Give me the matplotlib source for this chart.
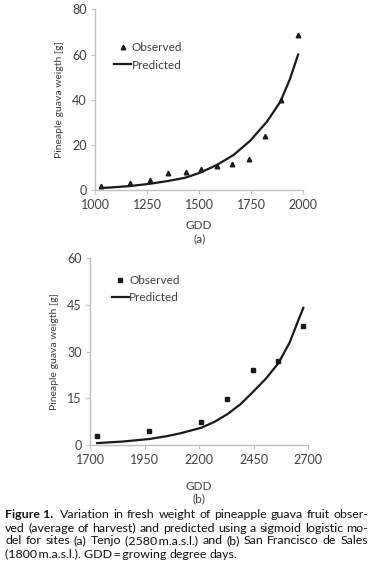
import numpy as np
import matplotlib
matplotlib.use("Agg")
import matplotlib.pyplot as plt

plt.rcParams['font.family'] = ['Lato', 'DejaVu Sans']

# (a) Tenjo
gdd_a = [1030, 1170, 1265, 1350, 1435, 1510, 1585, 1660, 1740, 1815, 1895, 1975]
obs_a = [1.8, 3.4, 4.7, 7.7, 8.2, 9.4, 10.7, 11.5, 13.7, 23.9, 39.8, 68.6]
gdd_pa = [1030, 1100, 1170, 1265, 1350, 1435, 1505, 1585, 1665, 1745, 1825,
          1890, 1935, 1975]
pred_a = [1.0, 1.4, 1.9, 2.9, 4.1, 5.6, 7.8, 11.2, 15.6, 21.9, 30.3,
          39.2, 49.0, 60.0]

# (b) San Francisco de Sales
gdd_b = [1733, 1971, 2209, 2328, 2447, 2562, 2677]
obs_b = [2.9, 4.5, 7.4, 14.9, 24.1, 26.9, 38.1]
gdd_pb = [1733, 1850, 1971, 2050, 2112, 2209, 2270, 2330, 2390, 2448, 2505,
          2563, 2615, 2654, 2677]
pred_b = [0.7, 1.2, 2.0, 2.9, 3.8, 5.6, 7.5, 10.0, 13.2, 17.2, 21.3,
          26.3, 33.0, 40.0, 44.0]

ticks_a_x = [1000, 1250, 1500, 1750, 2000]
ticks_a_y = [0, 20, 40, 60, 80]
ticks_b_x = [1700, 1950, 2200, 2450, 2700]
ticks_b_y = [0, 15, 30, 45, 60]

ylabel = "Pineaple guava weigth [g]"
axis_col = '#c0c0c0'
text_col = '#404040'

fig = plt.figure(figsize=(3.75, 5.73), dpi=100)


def style_axis(ax, xt, yt, panel, pad):
    for s in ['top', 'right']:
        ax.spines[s].set_visible(False)
    for s in ['left', 'bottom']:
        ax.spines[s].set_color(axis_col)
        ax.spines[s].set_linewidth(1.0)
    ax.set_xlim(xt[0], xt[-1])
    ax.set_ylim(yt[0], yt[-1])
    ax.set_xticks(xt)
    ax.set_yticks(yt)
    ax.tick_params(direction='out', length=3, width=0.8, color=axis_col,
                   labelsize=9, labelcolor=text_col, pad=3)
    ax.set_ylabel(ylabel, fontsize=7.5, color=text_col, labelpad=6)
    ax.set_xlabel("GDD\n" + panel, fontsize=8.5, color=text_col,
                  labelpad=pad, linespacing=1.2)
    ax.patch.set_alpha(0)


def add_legend(ax, anchor):
    ax.legend(loc='upper left', bbox_to_anchor=anchor, frameon=False,
              fontsize=8.5, handlelength=1.4, handletextpad=0.05,
              labelspacing=0.55, labelcolor=text_col, borderaxespad=0)


ax1 = fig.add_axes([0.2533, 0.6679, 0.5556, 0.3159])
ax1.plot(gdd_a, obs_a, '^', color='#1a1a1a', markersize=3.3, label='Observed',
         clip_on=False)
ax1.plot(gdd_pa, pred_a, '-', color='#1a1a1a', lw=1.6, label='Predicted',
         clip_on=False)
style_axis(ax1, ticks_a_x, ticks_a_y, "(a)", 7)
add_legend(ax1, (0.07, 0.845))

ax2 = fig.add_axes([0.24, 0.2229, 0.5822, 0.3269])
ax2.plot(gdd_b, obs_b, 's', color='#1a1a1a', markersize=3.5, label='Observed',
         clip_on=False)
ax2.plot(gdd_pb, pred_b, '-', color='#1a1a1a', lw=1.6, label='Predicted',
         clip_on=False)
style_axis(ax2, ticks_b_x, ticks_b_y, "(b)", 11)
add_legend(ax2, (0.08, 0.936))

# caption, justified by hand
caption = [
    "Variation in fresh weight of pineapple guava fruit obser-",
    "ved (average of harvest) and predicted using a sigmoid logistic mo-",
    "del for sites (a) Tenjo (2580\u2009m.a.s.l.) and (b) San Francisco de Sales",
    "(1800\u2009m.a.s.l.). GDD\u2009=\u2009growing degree days.",
]
ys = [515, 528, 541, 554]
left_px, right_px = 5, 368
fs = 8.9
fig.canvas.draw()
renderer = fig.canvas.get_renderer()


def put_words(words, x_start, y, justify):
    objs = [fig.text(0, 1 - y / 573, w, fontsize=fs, color='#111111',
                     va='center') for w in words]
    widths = [o.get_window_extent(renderer).width for o in objs]
    if justify and len(words) > 1:
        gap = (right_px - x_start - sum(widths)) / (len(words) - 1)
    else:
        gap = fs * 100 / 72 * 0.25
    x = x_start
    for o, w in zip(objs, widths):
        o.set_x(x / 375)
        x += w + gap


t = fig.text(left_px / 375, 1 - ys[0] / 573, "Figure 1.", fontsize=fs,
             fontweight='bold', color='#111111', va='center')
bb = t.get_window_extent(renderer)
put_words(caption[0].split(' '), bb.x1 + 7, ys[0], True)
put_words(caption[1].split(' '), left_px, ys[1], True)
put_words(caption[2].split(' '), left_px, ys[2], True)
put_words(caption[3].split(' '), left_px, ys[3], False)

fig.savefig("out.png", dpi=100)
